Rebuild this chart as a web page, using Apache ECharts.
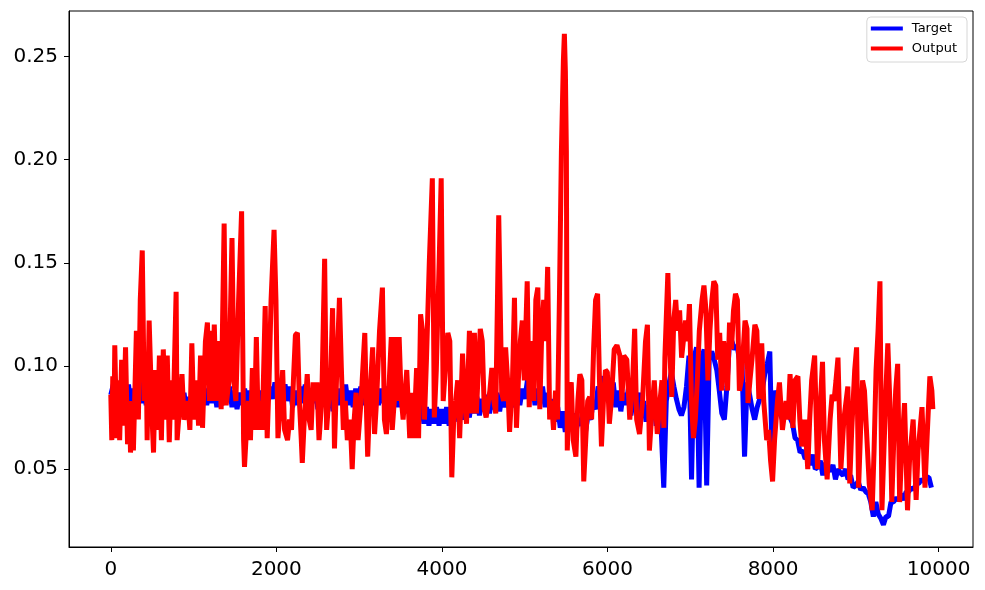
<!DOCTYPE html>
<html>
<head>
<meta charset="utf-8">
<script src="https://cdn.jsdelivr.net/npm/echarts@6/dist/echarts.min.js"></script>
<style>
  html, body { margin: 0; padding: 0; background: #fff; }
  #chart { width: 985px; height: 590px; }
</style>
</head>
<body>
<div id="chart"></div>
<script>
const blueStep = 30.5;
const target = [
  0.086,0.091,0.081,0.090,0.080,0.089,0.082,0.091,0.081,0.089,
  0.080,0.090,0.082,0.092,0.081,0.089,0.080,0.090,0.083,0.091,
  0.081,0.090,0.082,0.089,0.080,0.090,0.081,0.088,0.079,0.087,
  0.078,0.085,0.076,0.084,0.077,0.086,0.080,0.089,0.081,0.090,
  0.082,0.089,0.080,0.090,0.081,0.089,0.083,0.090,0.080,0.088,
  0.079,0.087,0.081,0.089,0.080,0.088,0.081,0.090,0.080,0.088,
  0.081,0.089,0.082,0.090,0.084,0.092,0.085,0.093,0.084,0.091,
  0.083,0.090,0.080,0.088,0.081,0.090,0.082,0.091,0.080,0.088,
  0.082,0.090,0.079,0.087,0.081,0.089,0.080,0.088,0.078,0.087,
  0.081,0.089,0.082,0.091,0.081,0.088,0.080,0.089,0.082,0.090,
  0.081,0.089,0.080,0.088,0.079,0.087,0.081,0.089,0.082,0.090,
  0.079,0.087,0.081,0.089,0.080,0.088,0.078,0.086,0.077,0.085,
  0.075,0.083,0.074,0.082,0.072,0.080,0.071,0.079,0.072,0.080,
  0.071,0.079,0.072,0.080,0.071,0.079,0.073,0.081,0.075,0.083,
  0.074,0.082,0.075,0.084,0.077,0.085,0.076,0.084,0.078,0.086,
  0.077,0.085,0.079,0.087,0.078,0.086,0.080,0.088,0.078,0.086,
  0.080,0.088,0.081,0.089,0.084,0.093,0.085,0.092,0.081,0.089,
  0.082,0.090,0.080,0.087,0.077,0.084,0.073,0.080,0.070,0.078,
  0.068,0.076,0.069,0.077,0.066,0.074,0.071,0.079,0.068,0.076,
  0.074,0.082,0.079,0.090,0.088,0.095,0.083,0.091,0.084,0.092,
  0.080,0.088,0.078,0.087,0.081,0.089,0.076,0.084,0.079,0.087,
  0.075,0.083,0.073,0.081,0.076,0.084,0.071,0.079,0.069,0.041,
  0.083,0.091,0.097,0.090,0.084,0.079,0.076,0.080,0.090,0.105,
  0.045,0.104,0.109,0.041,0.104,0.108,0.042,0.104,0.107,0.103,
  0.098,0.088,0.077,0.074,0.090,0.111,0.112,0.108,0.110,0.103,
  0.101,0.056,0.092,0.086,0.079,0.074,0.080,0.084,0.088,0.096,
  0.101,0.107,0.050,0.088,0.083,0.077,0.074,0.079,0.077,0.075,
  0.072,0.065,0.064,0.058,0.059,0.055,0.056,0.052,0.057,0.050,
  0.051,0.054,0.047,0.053,0.050,0.049,0.052,0.045,0.050,0.048,
  0.047,0.050,0.045,0.047,0.041,0.042,0.044,0.040,0.041,0.039,
  0.038,0.034,0.027,0.034,0.028,0.026,0.023,0.027,0.027,0.034,
  0.034,0.036,0.035,0.038,0.035,0.039,0.039,0.041,0.040,0.043,
  0.043,0.045,0.044,0.046,0.046,0.041
];

// Output: [step, value] at the turning points of the red curve
const output = [
  [0,0.086],[12,0.064],[24,0.095],[36,0.065],[48,0.110],[71,0.065],[95,0.093],[107,0.064],[131,0.103],[154,0.071],
  [178,0.109],[202,0.062],[226,0.083],[238,0.058],[261,0.074],[273,0.059],[309,0.117],[333,0.074],[356,0.132],[380,0.156],
  [404,0.083],[428,0.103],[439,0.064],[463,0.122],[499,0.074],[516,0.058],[539,0.098],[563,0.069],[587,0.105],[611,0.064],
  [634,0.108],[658,0.074],[682,0.105],[706,0.063],[729,0.093],[753,0.074],[789,0.136],[801,0.064],[836,0.083],[860,0.096],
  [884,0.074],[908,0.077],[931,0.083],[955,0.069],[979,0.111],[1003,0.074],[1036,0.093],[1060,0.071],[1084,0.105],[1108,0.070],
  [1143,0.112],[1167,0.121],[1191,0.083],[1214,0.117],[1226,0.083],[1250,0.120],[1274,0.083],[1309,0.112],[1333,0.079],[1369,0.169],
  [1393,0.081],[1428,0.093],[1464,0.162],[1488,0.092],[1511,0.083],[1544,0.132],[1580,0.175],[1604,0.064],[1615,0.051],[1639,0.069],
  [1663,0.083],[1687,0.064],[1710,0.099],[1734,0.069],[1758,0.114],[1782,0.069],[1805,0.083],[1829,0.069],[1865,0.129],[1889,0.065],
  [1912,0.093],[1936,0.132],[1972,0.166],[1995,0.132],[2019,0.065],[2052,0.083],[2076,0.098],[2099,0.069],[2135,0.064],[2159,0.074],
  [2183,0.069],[2206,0.093],[2230,0.115],[2254,0.116],[2278,0.083],[2301,0.064],[2313,0.053],[2337,0.074],[2373,0.096],[2396,0.074],
  [2420,0.069],[2444,0.092],[2468,0.083],[2491,0.092],[2515,0.064],[2548,0.083],[2583,0.152],[2607,0.069],[2631,0.083],[2655,0.093],
  [2679,0.128],[2702,0.060],[2726,0.093],[2762,0.133],[2785,0.099],[2809,0.069],[2833,0.083],[2857,0.064],[2892,0.074],[2916,0.050],
  [2940,0.074],[2963,0.087],[2987,0.064],[3023,0.083],[3068,0.116],[3091,0.074],[3103,0.056],[3127,0.083],[3163,0.109],[3186,0.067],
  [3210,0.083],[3246,0.117],[3281,0.138],[3305,0.074],[3329,0.067],[3353,0.083],[3388,0.114],[3400,0.069],[3424,0.083],[3448,0.114],
  [3471,0.083],[3483,0.114],[3507,0.085],[3531,0.074],[3575,0.098],[3611,0.065],[3635,0.087],[3658,0.065],[3694,0.099],[3718,0.065],
  [3742,0.125],[3765,0.117],[3789,0.074],[3813,0.103],[3848,0.151],[3884,0.191],[3908,0.075],[3932,0.098],[3967,0.151],[3991,0.191],
  [4015,0.083],[4071,0.116],[4095,0.112],[4119,0.046],[4142,0.074],[4166,0.083],[4190,0.093],[4214,0.065],[4249,0.106],[4273,0.083],
  [4297,0.072],[4332,0.117],[4356,0.077],[4392,0.116],[4416,0.077],[4439,0.098],[4463,0.118],[4487,0.112],[4511,0.079],[4534,0.075],
  [4579,0.088],[4603,0.099],[4627,0.083],[4650,0.077],[4686,0.173],[4722,0.087],[4745,0.083],[4769,0.109],[4793,0.093],[4817,0.068],
  [4852,0.093],[4876,0.133],[4900,0.070],[4923,0.093],[4947,0.112],[4971,0.122],[4995,0.093],[5030,0.141],[5054,0.080],[5087,0.112],
  [5111,0.083],[5134,0.132],[5158,0.138],[5182,0.079],[5206,0.117],[5229,0.132],[5253,0.112],[5277,0.148],[5301,0.074],[5324,0.083],
  [5348,0.069],[5372,0.088],[5396,0.074],[5419,0.132],[5443,0.204],[5467,0.248],[5479,0.261],[5491,0.243],[5503,0.204],[5514,0.059],
  [5538,0.088],[5562,0.092],[5586,0.064],[5618,0.056],[5642,0.083],[5666,0.096],[5690,0.093],[5713,0.044],[5737,0.064],[5761,0.083],
  [5785,0.085],[5808,0.074],[5832,0.108],[5856,0.132],[5880,0.135],[5903,0.093],[5927,0.061],[5951,0.083],[5975,0.098],[5998,0.097],
  [6022,0.072],[6046,0.083],[6081,0.108],[6114,0.110],[6150,0.105],[6174,0.083],[6197,0.105],[6233,0.103],[6269,0.074],[6304,0.093],
  [6328,0.118],[6352,0.074],[6387,0.067],[6423,0.083],[6459,0.112],[6482,0.120],[6506,0.059],[6530,0.074],[6565,0.093],[6601,0.067],
  [6634,0.083],[6658,0.093],[6681,0.070],[6693,0.104],[6729,0.145],[6752,0.108],[6776,0.085],[6800,0.122],[6824,0.132],[6847,0.117],
  [6871,0.127],[6895,0.104],[6943,0.122],[6966,0.112],[6990,0.130],[7014,0.083],[7038,0.065],[7061,0.074],[7085,0.093],[7109,0.117],
  [7142,0.132],[7165,0.139],[7189,0.127],[7213,0.093],[7237,0.117],[7261,0.132],[7284,0.141],[7308,0.139],[7332,0.103],[7355,0.116],
  [7379,0.088],[7403,0.112],[7427,0.103],[7450,0.088],[7474,0.121],[7498,0.108],[7522,0.127],[7546,0.135],[7569,0.132],[7593,0.088],
  [7617,0.093],[7661,0.122],[7685,0.118],[7697,0.082],[7721,0.093],[7745,0.103],[7780,0.120],[7804,0.117],[7828,0.084],[7863,0.111],
  [7887,0.083],[7923,0.064],[7946,0.069],[7970,0.054],[7994,0.044],[8018,0.064],[8053,0.083],[8077,0.092],[8113,0.069],[8157,0.083],
  [8181,0.074],[8205,0.096],[8240,0.070],[8264,0.093],[8300,0.095],[8323,0.074],[8347,0.061],[8383,0.074],[8419,0.050],[8442,0.074],
  [8466,0.093],[8502,0.105],[8537,0.050],[8561,0.074],[8597,0.102],[8620,0.064],[8653,0.045],[8689,0.074],[8713,0.086],[8736,0.083],
  [8760,0.093],[8784,0.104],[8819,0.050],[8855,0.074],[8903,0.090],[8926,0.043],[8950,0.069],[8986,0.098],[9009,0.109],[9033,0.041],
  [9057,0.069],[9081,0.093],[9104,0.088],[9128,0.069],[9161,0.043],[9197,0.030],[9220,0.059],[9244,0.098],[9268,0.117],[9291,0.141],
  [9315,0.030],[9339,0.059],[9363,0.088],[9386,0.111],[9410,0.083],[9434,0.034],[9458,0.064],[9481,0.088],[9505,0.101],[9529,0.034],
  [9553,0.059],[9588,0.082],[9624,0.030],[9648,0.054],[9692,0.074],[9728,0.035],[9752,0.059],[9799,0.080],[9835,0.041],[9859,0.064],
  [9894,0.095],[9918,0.088],[9930,0.079]
];

const xTicks = [0, 2000, 4000, 6000, 8000, 10000];
const yTicks = [0.05, 0.10, 0.15, 0.20, 0.25];

const font = 'DejaVu Sans';
let chart = echarts.init(document.getElementById('chart'));

chart.setOption({
  animation: false,
  backgroundColor: '#fff',
  grid: {
    left: 69,
    right: 12,
    top: 11,
    bottom: 43,
    show: true,
    borderColor: '#000',
    borderWidth: 1
  },
  legend: {
    data: [
      { name: 'Target', icon: 'rect' },
      { name: 'Output', icon: 'rect' }
    ],
    orient: 'vertical',
    right: 18,
    top: 17,
    itemWidth: 32,
    itemHeight: 4,
    itemGap: 7,
    padding: [5, 10, 7, 4],
    borderColor: '#d6d6d6',
    borderWidth: 1,
    borderRadius: 4,
    backgroundColor: '#fff',
    textStyle: { fontFamily: font, fontSize: 13, lineHeight: 13, color: '#000', padding: [0, 0, 0, 4] }
  },
  xAxis: {
    type: 'value',
    min: -505,
    max: 10415,
    splitLine: { show: false },
    axisLine: { onZero: false, lineStyle: { color: '#000', width: 1 } },
    axisTick: { customValues: xTicks, length: 5, lineStyle: { color: '#000' } },
    axisLabel: {
      customValues: xTicks,
      margin: 13,
      fontFamily: font,
      fontSize: 20,
      color: '#000',
      formatter: function (v) { return String(v); }
    }
  },
  yAxis: {
    type: 'value',
    min: 0.0122,
    max: 0.2721,
    splitLine: { show: false },
    axisLine: { show: true, onZero: false, lineStyle: { color: '#000', width: 1 } },
    axisTick: { show: true, customValues: yTicks, length: 5, lineStyle: { color: '#000' } },
    axisLabel: {
      customValues: yTicks,
      margin: 11,
      fontFamily: font,
      fontSize: 20,
      color: '#000',
      formatter: function (v) { return v.toFixed(2); }
    }
  },
  series: [
    {
      name: 'Target',
      type: 'line',
      symbol: 'none',
      color: '#0000ff',
      lineStyle: { color: '#0000ff', width: 5 },
      data: target.map(function (v, i) { return [i * blueStep, v]; })
    },
    {
      name: 'Output',
      type: 'line',
      symbol: 'none',
      color: '#ff0000',
      lineStyle: { color: '#ff0000', width: 5 },
      data: output
    }
  ]
});
</script>
</body>
</html>
